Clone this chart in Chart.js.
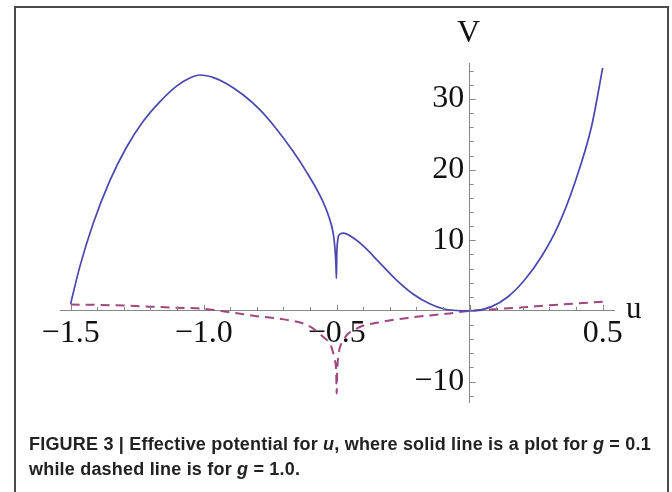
<!DOCTYPE html>
<html lang="en">
<head>
  <meta charset="UTF-8" />
  <title>Effective potential</title>
  <style>
    html, body { margin: 0; padding: 0; background: #fff; }
    body { width: 672px; height: 492px; position: relative; overflow: hidden; }
    #frame {
      position: absolute; left: 14px; top: 6px; width: 651px; height: 500px;
      border: 2px solid #4a4a4a;
    }
    canvas { position: absolute; left: 0; top: 0; }
    .lbl { position: absolute; font-family: "Liberation Serif", serif; color: #111; }
    #vlab { left: 457px; top: 13px; font-size: 32px; }
    #ulab { left: 626px; top: 290px; font-size: 31px; }
    #caption {
      position: absolute; left: 29px; top: 432px; width: 640px;
      font-family: "Liberation Sans Narrow", "Liberation Sans", sans-serif;
      font-weight: bold; font-size: 18px; line-height: 25px; color: #222;
      letter-spacing: 0.2px;
    }
  </style>
  <script src="https://cdn.jsdelivr.net/npm/chart.js"></script>
</head>
<body>
  <div id="frame"></div>
  <canvas id="potChart" width="672" height="492"></canvas>
  <span class="lbl" id="vlab">V</span>
  <span class="lbl" id="ulab">u</span>
  <div id="caption">FIGURE 3 | Effective potential for <i>u</i>, where solid line is a plot for <i>g</i> = 0.1<br>while dashed line is for <i>g</i> = 1.0.</div>

  <script>
    // значения
    const uSolid = [-1.5, -1.466, -1.416, -1.353, -1.291, -1.228, -1.165, -1.103, -1.05, -1.015,
      -0.96, -0.915, -0.852, -0.789, -0.727, -0.664, -0.617, -0.561, -0.53, -0.513,
      -0.507, -0.503, -0.501, -0.4995, -0.496, -0.49, -0.475, -0.444, -0.4, -0.338,
      -0.276, -0.213, -0.15, -0.088, 0, 0.082, 0.144, 0.207, 0.27, 0.332, 0.395, 0.458, 0.5];
    const vSolid = [1.0, 6.2, 12.3, 18.4, 23.1, 26.8, 29.6, 31.8, 33.0, 33.4,
      33.0, 32.2, 30.6, 28.5, 25.8, 22.6, 19.9, 16.2, 13.4, 11.0,
      9.1, 6.8, 4.6, 8.0, 10.0, 10.8, 11.0, 10.5, 9.2, 6.8,
      4.4, 2.4, 1.0, 0.2, 0, 0.6, 2.0, 4.4, 7.7, 12.0, 18.1, 26.1, 34.4];

    const uDashed = [-1.5, -1.4, -1.3, -1.2, -1.1, -1.0, -0.9, -0.8, -0.7, -0.612,
      -0.55, -0.52, -0.507, -0.502, -0.5, -0.498, -0.494, -0.475, -0.425, -0.337,
      -0.212, -0.087, 0, 0.1, 0.2, 0.3, 0.4, 0.5];
    const vDashed = [0.9, 0.85, 0.75, 0.6, 0.45, 0.3, -0.2, -0.75, -1.2, -2.0,
      -3.7, -5.1, -7.0, -8.5, -11.7, -8.5, -6.5, -4.2, -2.5, -1.6,
      -0.9, -0.4, 0, 0.25, 0.5, 0.8, 1.05, 1.3];

    const xTickLabels = [-1.5, -1.0, -0.5, 0.5];
    const yTickLabels = [-10, 10, 20, 30];

    const toPts = (xs, ys) => xs.map((x, i) => ({ x: x, y: ys[i] }));
    const fmt = (v, d) => (v < 0 ? '\u2212' : '') + Math.abs(v).toFixed(d);

    // мелкие и крупные засечки внутрь, как в Mathematica
    const tickMarks = {
      id: 'tickMarks',
      afterDatasetsDraw(chart) {
        const { ctx, scales: { x, y } } = chart;
        const x0 = x.getPixelForValue(0);
        const y0 = y.getPixelForValue(0);
        ctx.save();
        ctx.strokeStyle = '#888';
        ctx.lineWidth = 1;
        ctx.beginPath();
        for (let k = -15; k <= 5; k++) {
          const px = Math.round(x.getPixelForValue(k / 10)) + 0.5;
          const len = k % 5 === 0 ? 6 : 4;
          ctx.moveTo(px, y0);
          ctx.lineTo(px, y0 - len);
        }
        for (let k = -12; k <= 34; k += 2) {
          const py = Math.round(y.getPixelForValue(k)) + 0.5;
          const len = k % 10 === 0 ? 6 : 4;
          ctx.moveTo(x0, py);
          ctx.lineTo(x0 + len, py);
        }
        ctx.stroke();
        ctx.restore();
      }
    };

    const ctx = document.getElementById('potChart').getContext('2d');
    const chart = new Chart(ctx, {
      type: 'scatter',
      data: {
        datasets: [{
          label: 'g = 0.1',
          data: toPts(uSolid, vSolid),
          showLine: true,
          borderColor: '#4848b0',
          borderWidth: 1.7,
          pointRadius: 0,
          cubicInterpolationMode: 'monotone'
        }, {
          label: 'g = 1.0',
          data: toPts(uDashed, vDashed),
          showLine: true,
          borderColor: '#a0477f',
          borderWidth: 2,
          borderDash: [9, 6],
          pointRadius: 0,
          cubicInterpolationMode: 'monotone'
        }]
      },
      options: {
        responsive: false,
        animation: false,
        devicePixelRatio: 1,
        layout: { padding: { left: 60, right: 58, top: 63, bottom: 90 } },
        plugins: { legend: { display: false }, tooltip: { enabled: false } },
        scales: {
          x: {
            type: 'linear',
            position: { y: 0 },
            min: -1.54,
            max: 0.5425,
            afterFit: (s) => { s.height = 0; },
            afterBuildTicks: (s) => { s.ticks = xTickLabels.map(v => ({ value: v })); },
            grid: { drawOnChartArea: false, drawTicks: false },
            border: { display: true, color: '#888', width: 1 },
            ticks: {
              padding: 3,
              color: '#111',
              font: { family: 'Liberation Serif', size: 32 },
              callback: (v) => fmt(v, 1)
            }
          },
          y: {
            type: 'linear',
            position: { x: 0 },
            min: -12.9,
            max: 35.1,
            afterFit: (s) => { s.width = 0; },
            afterBuildTicks: (s) => { s.ticks = yTickLabels.map(v => ({ value: v })); },
            grid: { drawOnChartArea: false, drawTicks: false },
            border: { display: true, color: '#888', width: 1 },
            ticks: {
              color: '#111',
              font: { family: 'Liberation Serif', size: 32 },
              // узкий пробел — отступ от оси
              callback: (v) => fmt(v, 0) + '\u2006'
            }
          }
        }
      },
      plugins: [tickMarks]
    });
  </script>
</body>
</html>
